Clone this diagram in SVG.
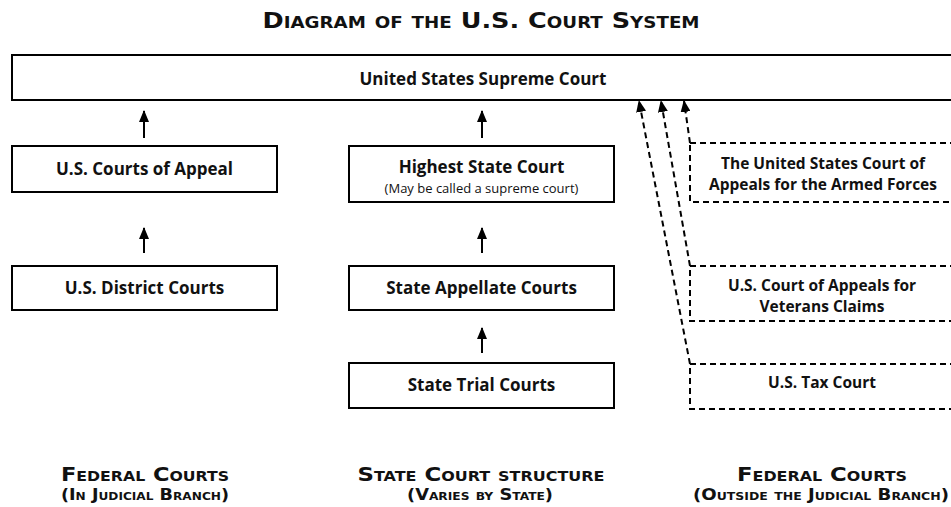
<svg xmlns="http://www.w3.org/2000/svg" width="951" height="507" viewBox="0 0 951 507">
<style>
.box{fill:#fff;stroke:#000;stroke-width:2}
.dbox{fill:#fff;stroke:#000;stroke-width:2;stroke-dasharray:6 4}
.t{font-family:"Open Sans","Liberation Sans",sans-serif;font-weight:700;font-size:17px;fill:#111;text-anchor:middle}
.d{font-family:"Open Sans","Liberation Sans",sans-serif;font-weight:700;font-size:15.5px;fill:#111;text-anchor:middle}
.s{font-family:"Open Sans","Liberation Sans",sans-serif;font-weight:400;font-size:13px;fill:#111;text-anchor:middle}
.h{font-family:"DejaVu Sans","Liberation Sans",sans-serif;font-variant:small-caps;fill:#111;text-anchor:middle}
.a{stroke:#000;stroke-width:2;fill:none;marker-end:url(#ah)}
.da{stroke:#000;stroke-width:2;fill:none;stroke-dasharray:6 4;marker-end:url(#ah)}
</style>
<defs>
<marker id="ah" viewBox="0 0 12 10" refX="11" refY="5" markerWidth="12" markerHeight="10" markerUnits="userSpaceOnUse" orient="auto">
<path d="M0,0 L12,5 L0,10 z" fill="#000"/>
</marker>
</defs>
<rect width="951" height="507" fill="#fff"/>
<text class="h" x="481" y="28" font-size="21" font-weight="bold" textLength="437" lengthAdjust="spacingAndGlyphs">Diagram of the U.S. Court System</text>

<g id="supreme"><rect class="box" x="12" y="55" width="945" height="45"/><text class="t" x="483" y="84.5" font-size="18.5">United States Supreme Court</text></g>

<g id="appeal"><rect class="box" x="12" y="146" width="265" height="46"/><text class="t" x="144.5" y="175">U.S. Courts of Appeal</text></g>
<g id="district"><rect class="box" x="12" y="266" width="265" height="44"/><text class="t" x="144.5" y="294">U.S. District Courts</text></g>

<g id="highest"><rect class="box" x="349" y="146" width="265" height="56"/><text class="t" x="481.5" y="173">Highest State Court</text><text class="s" x="481.5" y="193">(May be called a supreme court)</text></g>
<g id="appellate"><rect class="box" x="349" y="266" width="265" height="44"/><text class="t" x="481.5" y="294">State Appellate Courts</text></g>
<g id="trial"><rect class="box" x="349" y="363" width="265" height="45"/><text class="t" x="481.5" y="391">State Trial Courts</text></g>

<g id="armed"><rect class="dbox" x="690" y="143" width="265" height="59"/><text class="d" x="823" y="169">The United States Court of</text><text class="d" x="823" y="190">Appeals for the Armed Forces</text></g>
<g id="veterans"><rect class="dbox" x="690" y="266" width="265" height="55"/><text class="d" x="822" y="291">U.S. Court of Appeals for</text><text class="d" x="822" y="312">Veterans Claims</text></g>
<g id="tax"><rect class="dbox" x="690" y="364" width="265" height="45"/><text class="d" x="822" y="388">U.S. Tax Court</text></g>

<g id="connectors">
<line class="a" x1="144" y1="138" x2="144" y2="111"/>
<line class="a" x1="144" y1="253" x2="144" y2="228"/>
<line class="a" x1="482" y1="138" x2="482" y2="111"/>
<line class="a" x1="482" y1="253" x2="482" y2="228"/>
<line class="a" x1="482" y1="353" x2="482" y2="328"/>
<line class="da" x1="690" y1="143" x2="684" y2="101"/>
<line class="da" x1="690" y1="266" x2="661" y2="101"/>
<line class="da" x1="690" y1="364" x2="639" y2="101"/>
</g>

<g id="footer" class="h" font-weight="bold">
<text x="145" y="481" font-size="20" textLength="168" lengthAdjust="spacingAndGlyphs">Federal Courts</text>
<text x="145" y="500" font-size="16" textLength="168" lengthAdjust="spacingAndGlyphs">(In Judicial Branch)</text>
<text x="481" y="481" font-size="20" textLength="247" lengthAdjust="spacingAndGlyphs">State Court structure</text>
<text x="480" y="500" font-size="16" textLength="146" lengthAdjust="spacingAndGlyphs">(Varies by State)</text>
<text x="822" y="481" font-size="20" textLength="170" lengthAdjust="spacingAndGlyphs">Federal Courts</text>
<text x="821" y="500" font-size="16" textLength="256" lengthAdjust="spacingAndGlyphs">(Outside the Judicial Branch)</text>
</g>
</svg>
